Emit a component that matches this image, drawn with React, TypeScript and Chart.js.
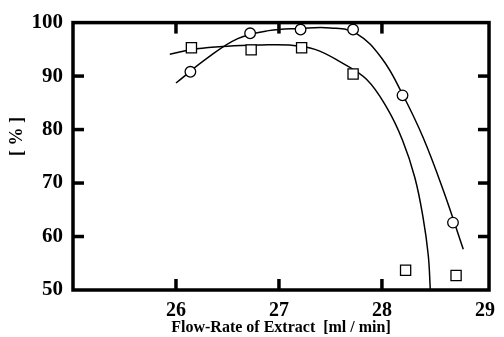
import React, { useEffect, useRef } from 'react';
import { Chart, registerables } from 'chart.js';

Chart.register(...registerables);

// Measured points (circles)
const CIRCLE_X = [26.14, 26.72, 27.21, 27.72, 28.2, 28.69];
const CIRCLE_Y = [90.8, 98.0, 98.7, 98.7, 86.4, 62.6];
// Measured points (squares)
const SQUARE_X = [26.15, 26.73, 27.22, 27.72, 28.23, 28.72];
const SQUARE_Y = [95.3, 94.9, 95.3, 90.4, 53.7, 52.7];

// Fitted curve traced through the circle data
const CIRCLE_FIT_X = [26.0, 26.3, 26.6, 26.9, 27.2, 27.5, 27.75, 28.0, 28.2, 28.4, 28.6, 28.79];
const CIRCLE_FIT_Y = [88.7, 93.3, 97.0, 98.5, 98.9, 99.0, 98.0, 93.3, 86.6, 78.5, 68.4, 57.6];
// Fitted curve traced through the square data
const SQUARE_FIT_X = [25.94, 26.2, 26.5, 26.8, 27.1, 27.35, 27.6, 27.85, 28.05, 28.2, 28.32, 28.4, 28.45, 28.47];
const SQUARE_FIT_Y = [94.1, 95.1, 95.6, 95.8, 95.8, 95.0, 92.6, 89.4, 84.0, 78.0, 71.0, 63.5, 56.5, 50.0];

const X_TICKS = [26, 27, 28, 29];
const Y_TICKS = [50, 60, 70, 80, 90, 100];
const X_TITLE = 'Flow-Rate of Extract  [ml / min]';
const Y_TITLE = '[ % ]';

const FONT = "'Liberation Serif', 'Times New Roman', serif";

const zip = (xs: number[], ys: number[]) => xs.map((x, i) => ({ x, y: ys[i] }));

const framePlugin = {
  id: 'frame',
  afterDraw(chart: any) {
    const { ctx, chartArea: a, scales } = chart;
    ctx.save();
    ctx.strokeStyle = '#000';
    ctx.lineWidth = 3.5;
    ctx.strokeRect(a.left, a.top, a.right - a.left, a.bottom - a.top);
    const L = 11;
    const seg = (x1: number, y1: number, x2: number, y2: number) => {
      ctx.beginPath();
      ctx.moveTo(x1, y1);
      ctx.lineTo(x2, y2);
      ctx.stroke();
    };
    scales.x.ticks.forEach((t: any) => {
      const px = scales.x.getPixelForValue(t.value);
      if (px < a.left + 6 || px > a.right - 6) return;
      seg(px, a.bottom, px, a.bottom - L);
      seg(px, a.top, px, a.top + L);
    });
    scales.y.ticks.forEach((t: any) => {
      const py = scales.y.getPixelForValue(t.value);
      if (py < a.top + 6 || py > a.bottom - 6) return;
      seg(a.left, py, a.left + L, py);
      seg(a.right, py, a.right - L, py);
    });
    // y-axis title
    ctx.translate(17, a.top + 0.426 * (a.bottom - a.top));
    ctx.rotate(-Math.PI / 2);
    ctx.fillStyle = '#000';
    ctx.font = `bold 18px ${FONT}`;
    ctx.textAlign = 'center';
    ctx.textBaseline = 'middle';
    ctx.fillText(Y_TITLE, 0, 0);
    ctx.restore();
  },
};

export default function App() {
  const ref = useRef<HTMLCanvasElement | null>(null);

  useEffect(() => {
    if (!ref.current) return;
    const lineCommon = {
      showLine: true,
      pointRadius: 0,
      borderColor: '#000',
      borderWidth: 1.5,
      fill: false,
      tension: 0.4,
    };
    const chart = new Chart(ref.current, {
      type: 'scatter',
      data: {
        datasets: [
          {
            data: zip(CIRCLE_X, CIRCLE_Y),
            pointStyle: 'circle',
            pointRadius: 5.3,
            backgroundColor: '#fff',
            borderColor: '#000',
            borderWidth: 1.3,
            showLine: false,
          },
          {
            data: zip(SQUARE_X, SQUARE_Y),
            pointStyle: 'rect',
            pointRadius: 7.2,
            backgroundColor: '#fff',
            borderColor: '#000',
            borderWidth: 1.3,
            showLine: false,
          },
          { data: zip(CIRCLE_FIT_X, CIRCLE_FIT_Y), ...lineCommon },
          { data: zip(SQUARE_FIT_X, SQUARE_FIT_Y), ...lineCommon },
        ] as any,
      },
      options: {
        responsive: false,
        animation: false,
        devicePixelRatio: 1,
        layout: { padding: { top: 21.5, right: 10, left: 0, bottom: 0 } },
        plugins: { legend: { display: false }, tooltip: { enabled: false } },
        scales: {
          x: {
            type: 'linear',
            min: 25,
            max: 29.04,
            grid: { display: false, drawTicks: false },
            border: { display: false },
            afterBuildTicks: (s: any) => {
              s.ticks = X_TICKS.map((v) => ({ value: v }));
            },
            afterFit: (s: any) => {
              s.height = 47;
            },
            ticks: {
              color: '#000',
              font: { family: FONT, size: 20, weight: 'bold' },
              padding: 9,
              maxRotation: 0,
              autoSkip: false,
              includeBounds: false,
            },
            title: {
              display: true,
              text: X_TITLE,
              color: '#000',
              font: { family: FONT, size: 16, weight: 'bold' },
              padding: { top: 0, bottom: 0 },
            },
          },
          y: {
            type: 'linear',
            min: 50,
            max: 100,
            grid: { display: false, drawTicks: false },
            border: { display: false },
            afterBuildTicks: (s: any) => {
              s.ticks = Y_TICKS.map((v) => ({ value: v }));
            },
            afterFit: (s: any) => {
              s.width = 73;
            },
            ticks: {
              color: '#000',
              font: { family: FONT, size: 21, weight: 'bold' },
              padding: 10,
              autoSkip: false,
            },
          },
        },
      } as any,
      plugins: [framePlugin],
    });
    return () => chart.destroy();
  }, []);

  return (
    <div style={{ position: 'absolute', left: 0, top: 0, width: 504, height: 337, background: '#fff' }}>
      <canvas ref={ref} width={504} height={337} style={{ width: 504, height: 337 }} />
    </div>
  );
}
